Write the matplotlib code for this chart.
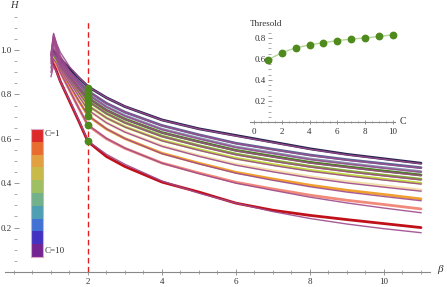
import numpy as np
import matplotlib
matplotlib.use('Agg')
import matplotlib.pyplot as plt
from matplotlib.colors import ListedColormap
from matplotlib.ticker import MultipleLocator, FormatStrFormatter

plt.rcParams['font.family'] = ['Liberation Serif', 'DejaVu Serif']

# measured points (beta grid) for C = 1..10
beta = [1.05, 1.25, 1.5, 1.75, 2.0, 2.5, 3.0, 4.0, 5.0, 6.0, 7.0, 8.0, 9.0, 10.0, 11.0]
h1 = [0.95, 0.86, 0.77, 0.68, 0.587, 0.52, 0.475, 0.405, 0.36, 0.31, 0.278, 0.255, 0.236, 0.218, 0.20]
h2 = [0.965, 0.901, 0.820, 0.738, 0.66, 0.600, 0.557, 0.491, 0.446, 0.404, 0.374, 0.346, 0.323, 0.304, 0.284]
h3 = [0.975, 0.914, 0.843, 0.772, 0.704, 0.644, 0.601, 0.535, 0.490, 0.449, 0.419, 0.391, 0.368, 0.349, 0.329]
h4 = [0.98, 0.922, 0.857, 0.792, 0.73, 0.672, 0.631, 0.568, 0.524, 0.485, 0.456, 0.429, 0.407, 0.388, 0.369]
h5 = [0.985, 0.928, 0.868, 0.808, 0.75, 0.694, 0.654, 0.593, 0.551, 0.512, 0.484, 0.458, 0.437, 0.418, 0.40]
h6 = [0.99, 0.933, 0.878, 0.823, 0.77, 0.714, 0.673, 0.612, 0.569, 0.531, 0.502, 0.476, 0.455, 0.436, 0.418]
h7 = [0.99, 0.938, 0.886, 0.834, 0.785, 0.729, 0.689, 0.628, 0.587, 0.548, 0.521, 0.494, 0.474, 0.455, 0.437]
h8 = [0.995, 0.942, 0.894, 0.846, 0.80, 0.744, 0.704, 0.643, 0.602, 0.563, 0.536, 0.509, 0.489, 0.470, 0.452]
h9 = [1.0, 0.946, 0.902, 0.858, 0.815, 0.760, 0.720, 0.660, 0.618, 0.580, 0.553, 0.527, 0.506, 0.488, 0.47]
h10 = [1.0, 0.96, 0.917, 0.875, 0.835, 0.785, 0.745, 0.685, 0.645, 0.615, 0.585, 0.555, 0.53, 0.51, 0.49]

# fitted curves
beta_fit = [1.0, 1.07, 1.15, 1.25, 1.5, 1.75, 2.0, 2.5, 3.0, 4.0, 5.0, 6.0, 7.0, 8.0, 9.0, 10.0, 11.0]
f1 = [0.88, 0.93, 0.90, 0.86, 0.775, 0.685, 0.59, 0.53, 0.485, 0.41, 0.355, 0.31, 0.272, 0.241, 0.216, 0.195, 0.177]
f2 = [0.90, 0.96, 0.94, 0.90, 0.82, 0.738, 0.662, 0.602, 0.558, 0.49, 0.443, 0.40, 0.368, 0.337, 0.311, 0.288, 0.267]
f3 = [0.92, 0.99, 0.96, 0.915, 0.843, 0.772, 0.705, 0.645, 0.601, 0.533, 0.487, 0.445, 0.413, 0.384, 0.36, 0.34, 0.321]
f4 = [0.94, 1.01, 0.975, 0.925, 0.857, 0.792, 0.73, 0.672, 0.63, 0.566, 0.521, 0.481, 0.451, 0.424, 0.401, 0.382, 0.364]
f5 = [0.95, 1.03, 0.99, 0.935, 0.868, 0.808, 0.75, 0.694, 0.653, 0.591, 0.548, 0.509, 0.48, 0.454, 0.433, 0.414, 0.396]
f6 = [0.96, 1.04, 1.0, 0.945, 0.878, 0.823, 0.77, 0.714, 0.672, 0.61, 0.567, 0.528, 0.499, 0.473, 0.452, 0.433, 0.415]
f7 = [0.97, 1.05, 1.01, 0.955, 0.888, 0.834, 0.785, 0.729, 0.688, 0.627, 0.585, 0.546, 0.518, 0.491, 0.471, 0.452, 0.434]
f8 = [0.975, 1.06, 1.02, 0.965, 0.896, 0.846, 0.80, 0.744, 0.703, 0.642, 0.6, 0.561, 0.534, 0.507, 0.487, 0.468, 0.45]
f9 = [0.98, 1.07, 1.025, 0.975, 0.906, 0.858, 0.815, 0.76, 0.72, 0.659, 0.617, 0.579, 0.551, 0.525, 0.504, 0.486, 0.468]
f10 = [0.98, 1.075, 1.03, 0.99, 0.925, 0.877, 0.835, 0.785, 0.745, 0.684, 0.644, 0.613, 0.583, 0.553, 0.528, 0.508, 0.488]

c_vals = [1, 2, 3, 4, 5, 6, 7, 8, 9, 10]
thresholds = [0.59, 0.66, 0.705, 0.735, 0.755, 0.775, 0.79, 0.80, 0.815, 0.83]
beta_c = 2.0

data_colors = ['#c0101a', '#f08a7a', '#f0a030', '#f3dcaa', '#c2d840',
               '#82a832', '#4d7f22', '#8494ae', '#5c6896', '#262650']
legend_colors = ['#dc2a2a', '#e86c30', '#e2a040', '#c8ba48', '#9ec062',
                 '#72b28a', '#4e9fb4', '#4272d4', '#4232c2', '#742492']
fit_color = '#9e4a8c'
green = '#4f8a1c'
tick_col = '#333333'

fig = plt.figure(figsize=(4.47, 2.87), dpi=100)
ax = fig.add_axes([0.0106, 0.0523, 0.9519, 0.9049])
ax.set_xlim(-0.25, 11.25)
ax.set_ylim(0, 1.17)
ax.patch.set_alpha(0)

hs = [h1, h2, h3, h4, h5, h6, h7, h8, h9, h10]
fs = [f1, f2, f3, f4, f5, f6, f7, f8, f9, f10]
for h, col in zip(hs, data_colors):
    ax.plot(beta, h, color=col, lw=2.0, solid_capstyle='round', zorder=2)
for f in fs:
    ax.plot(beta_fit, f, color=fit_color, lw=1.0, alpha=0.9, zorder=3)

ax.vlines(beta_c, 0, 1.135, colors='#e02020', linestyles=(0, (4, 2.5)), lw=1.0, zorder=4)
ax.plot([beta_c] * len(thresholds), thresholds, 'o', color=green, ms=4.6, zorder=5)

for s in ['top', 'right']:
    ax.spines[s].set_visible(False)
ax.spines['left'].set_position(('data', 0))
ax.spines['left'].set_color('none')
ax.spines['bottom'].set_color('#888888')
ax.spines['bottom'].set_linewidth(0.8)
ax.xaxis.set_minor_locator(MultipleLocator(0.5))
ax.set_xticks([2, 4, 6, 8, 10])
ax.set_yticks([0.2, 0.4, 0.6, 0.8, 1.0])
ax.yaxis.set_minor_locator(MultipleLocator(0.05))
ax.yaxis.set_major_formatter(FormatStrFormatter('%.1f'))
ax.tick_params(axis='both', which='major', labelsize=6.5, colors='#888888',
               labelcolor=tick_col, width=0.6)
ax.tick_params(axis='x', which='major', direction='inout', length=4, pad=2)
ax.tick_params(axis='x', which='minor', direction='inout', length=2.5, width=0.5, colors='#888888')
ax.tick_params(axis='y', which='major', direction='in', length=3.5, pad=1.5)
ax.tick_params(axis='y', which='minor', direction='in', length=2, width=0.5, colors='#888888')

fig.text(14 / 447, 1 - 5 / 287, 'H', fontsize=7.5, style='italic', ha='center', va='center', color=tick_col)
fig.text(440 / 447, 1 - 270 / 287, 'β', fontsize=8, style='italic', ha='center', va='center', color=tick_col)

# colour key
axl = fig.add_axes([0.0694, 0.1056, 0.0275, 0.445])
axl.imshow(np.arange(len(legend_colors)).reshape(-1, 1), cmap=ListedColormap(legend_colors),
           aspect='auto', interpolation='nearest')
axl.set_xticks([])
axl.set_yticks([])
for s in axl.spines.values():
    s.set_color('#e0a8c8')
    s.set_linewidth(0.8)
fig.text(45 / 447, 1 - 134 / 287, 'C=1', fontsize=6.5, ha='left', va='center', color=tick_col)
fig.text(45 / 447, 1 - 251 / 287, 'C=10', fontsize=6.5, ha='left', va='center', color=tick_col)

# inset: threshold vs C
axi = fig.add_axes([0.5593, 0.5749, 0.3244, 0.322])
axi.patch.set_alpha(0)
axi.set_xlim(-0.28, 10.15)
axi.set_ylim(0, 0.88)
axi.plot(c_vals, thresholds, color='#b5d49a', lw=1.0, marker='o', mfc=green, mec=green,
         ms=4.6, clip_on=False, zorder=3)
for s in ['top', 'right']:
    axi.spines[s].set_visible(False)
axi.spines['left'].set_position(('data', 1))
axi.spines['left'].set_color('none')
axi.spines['bottom'].set_color('#888888')
axi.spines['bottom'].set_linewidth(0.8)
axi.set_xticks([0, 2, 4, 6, 8, 10])
axi.xaxis.set_minor_locator(MultipleLocator(0.5))
axi.set_yticks([0.2, 0.4, 0.6, 0.8])
axi.yaxis.set_minor_locator(MultipleLocator(0.05))
axi.yaxis.set_major_formatter(FormatStrFormatter('%.1f'))
axi.tick_params(axis='both', which='major', labelsize=6.5, colors='#888888',
                labelcolor=tick_col, width=0.6)
axi.tick_params(axis='x', which='major', direction='inout', length=3.5, pad=2.5)
axi.tick_params(axis='x', which='minor', direction='inout', length=2, width=0.5, colors='#888888')
axi.tick_params(axis='y', which='major', direction='in', length=3, pad=1.5)
axi.tick_params(axis='y', which='minor', direction='in', length=1.8, width=0.5, colors='#888888')
fig.text(266 / 447, 1 - 24 / 287, 'Thresold', fontsize=6.5, ha='center', va='center', color=tick_col)
fig.text(403 / 447, 1 - 121 / 287, 'C', fontsize=7, ha='center', va='center', color=tick_col)

fig.savefig('out.png', dpi=100)
